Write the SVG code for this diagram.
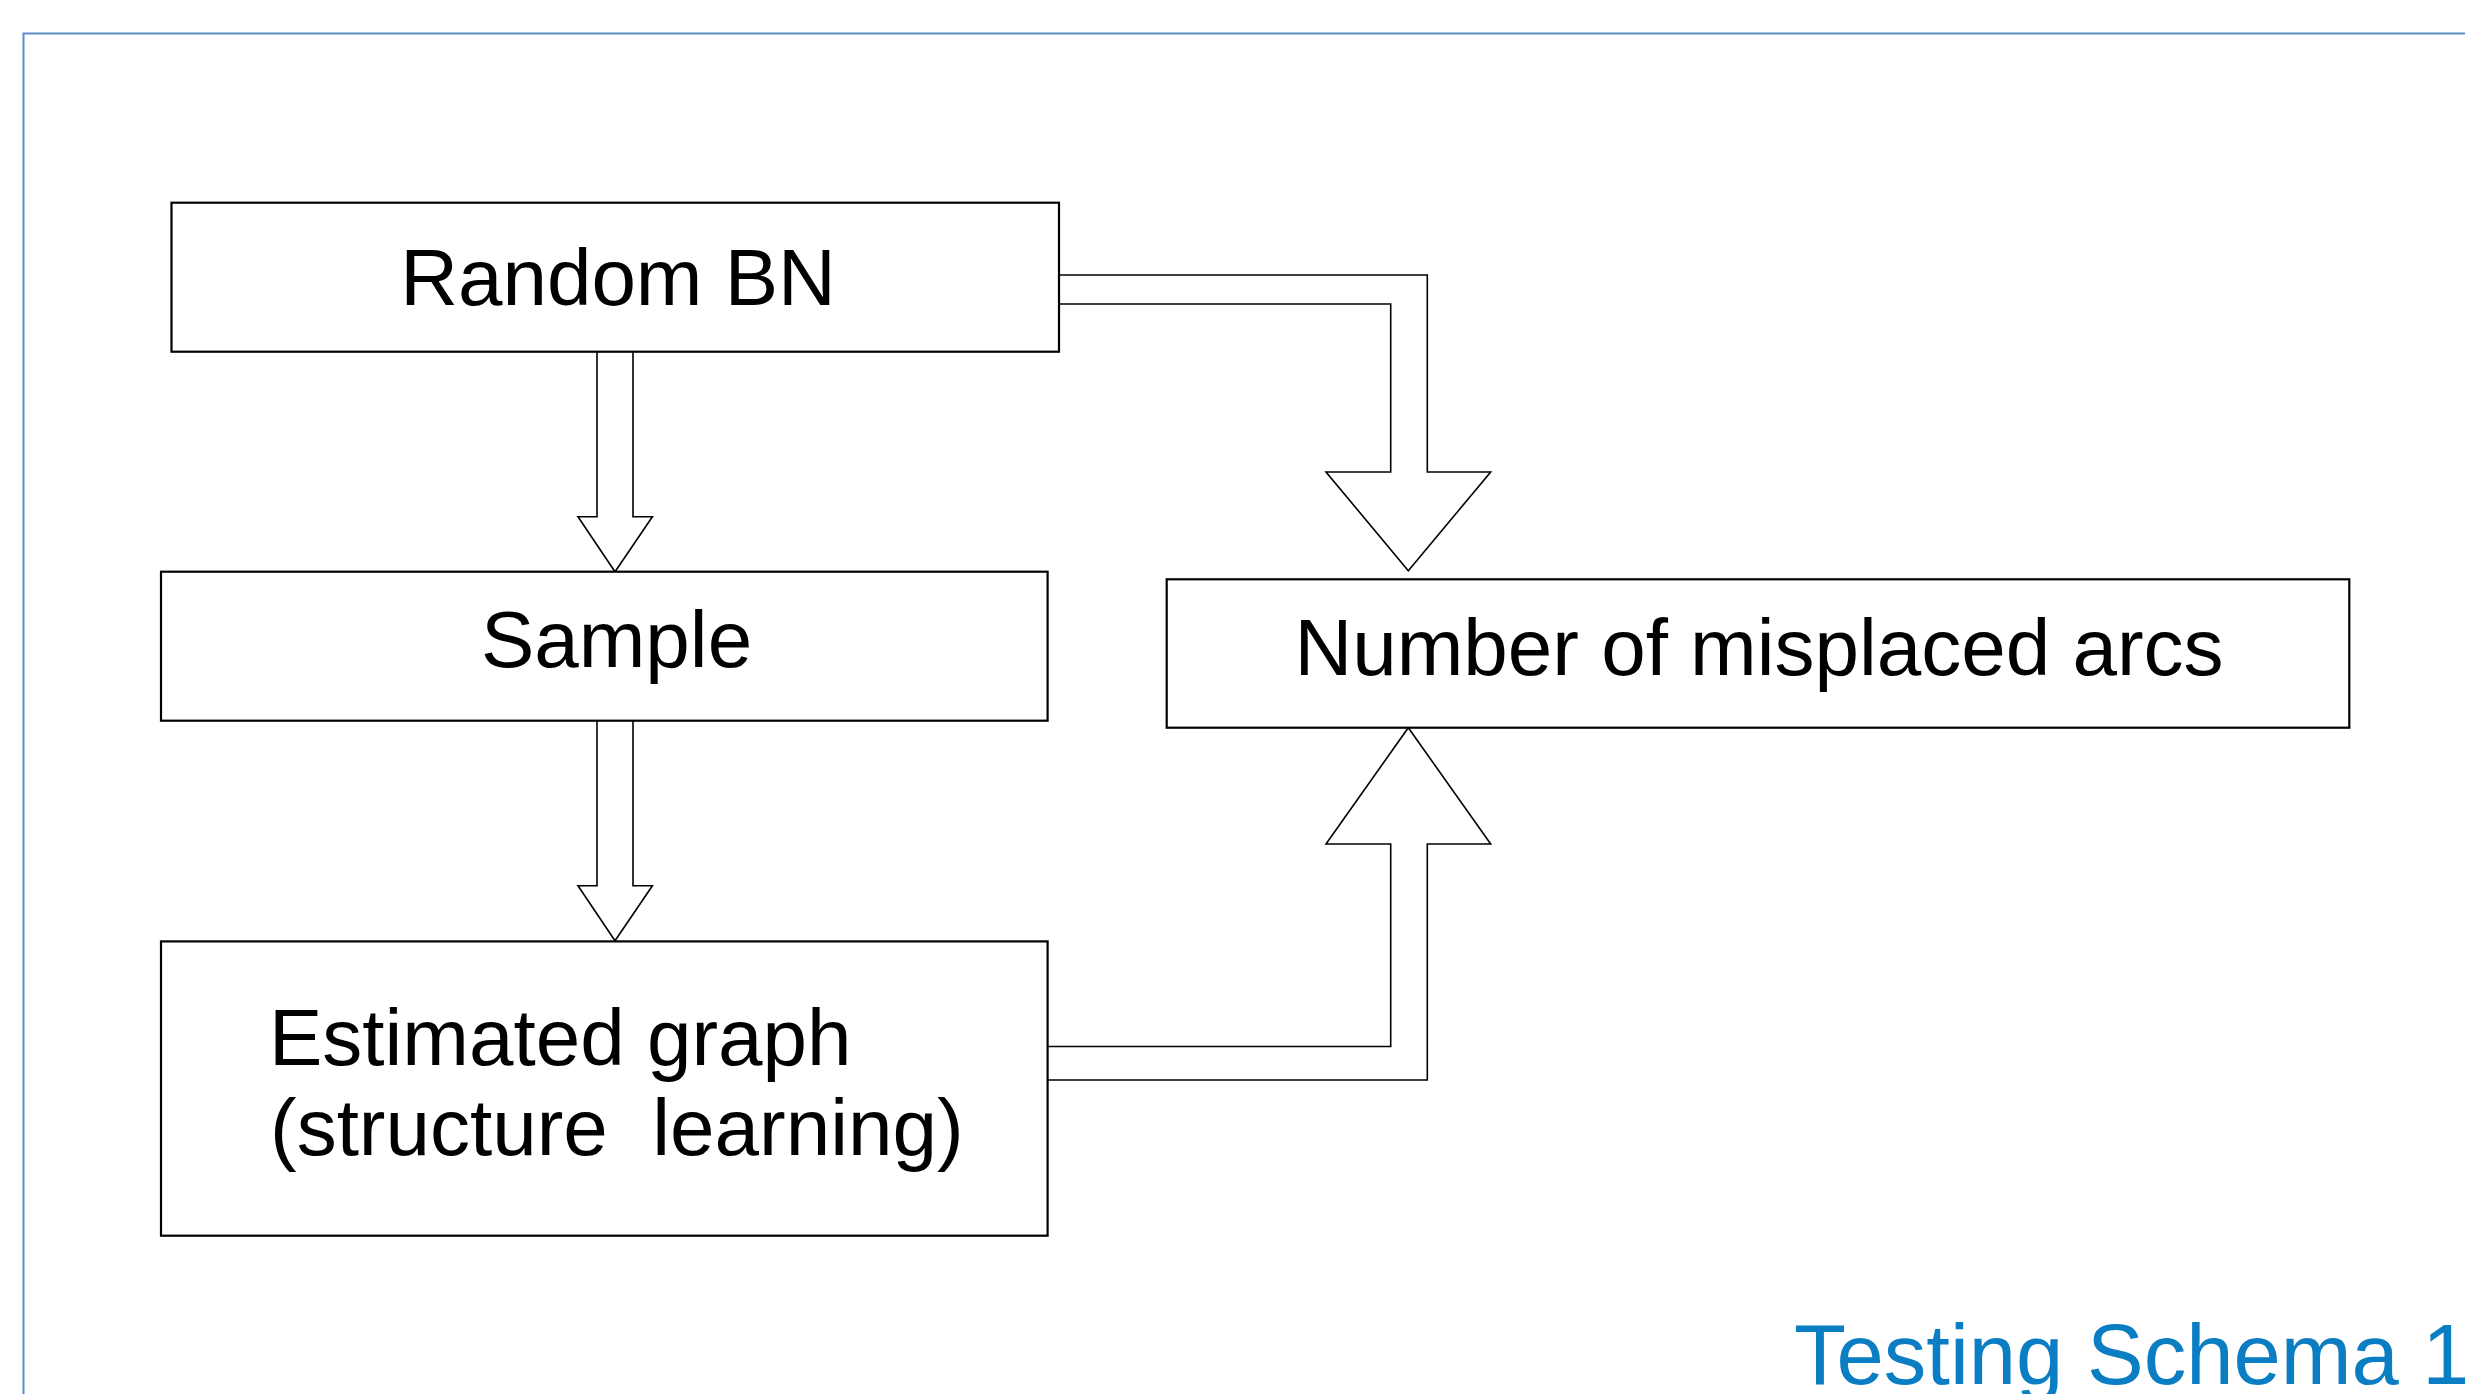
<svg xmlns="http://www.w3.org/2000/svg" width="2465" height="1394" viewBox="0 0 2465 1394">
<style>
.box{fill:#ffffff;stroke:#000000;stroke-width:2.2}
.lbl{font-family:"Liberation Sans",Arial,sans-serif;font-size:80px;fill:#000000}
.conn{fill:#ffffff;stroke:#000000;stroke-width:1.6;stroke-linejoin:miter}
.frame{fill:none;stroke:#5b8cc5;stroke-width:2}
.title{font-family:"Liberation Sans",Arial,sans-serif;font-size:85px;fill:#0b7dc3}
</style>
<rect width="2465" height="1394" fill="#ffffff"/>
<path class="frame" d="M23.5,1394 V33.5 H2465"/>
<g id="connectors">
<path class="conn" d="M597,351.7 V516.7 H578 L615,571.7 L652.4,516.7 H633 V351.7"/>
<path class="conn" d="M597,720.7 V885.7 H578 L615,940.7 L652.4,885.7 H633 V720.7"/>
<path class="conn" d="M1059,275 H1427.3 V472 H1490.7 L1408.3,570.7 L1326,472 H1390.7 V304 H1059"/>
<path class="conn" d="M1047.6,1046.5 H1390.7 V844 H1326 L1408.3,727.7 L1490.7,844 H1427.3 V1080 H1047.6"/>
</g>
<g id="node-random-bn">
<rect class="box" x="171.5" y="202.7" width="887.5" height="149"/>
<text class="lbl" x="618" y="305" text-anchor="middle">Random BN</text>
</g>
<g id="node-sample">
<rect class="box" x="161" y="571.7" width="886.6" height="149"/>
<text class="lbl" x="616.5" y="667.3" text-anchor="middle">Sample</text>
</g>
<g id="node-estimated">
<rect class="box" x="161" y="941.4" width="886.6" height="294.3"/>
<text class="lbl" x="269" y="1065">Estimated graph</text>
<text class="lbl" x="270" y="1155" xml:space="preserve" style="white-space:pre">(structure  learning)</text>
</g>
<g id="node-misplaced">
<rect class="box" x="1166.7" y="579.3" width="1182.6" height="148.4"/>
<text class="lbl" x="1759" y="674.5" text-anchor="middle">Number of misplaced arcs</text>
</g>
<text class="title" x="1794" y="1384.3">Testing Schema 1</text>
</svg>
